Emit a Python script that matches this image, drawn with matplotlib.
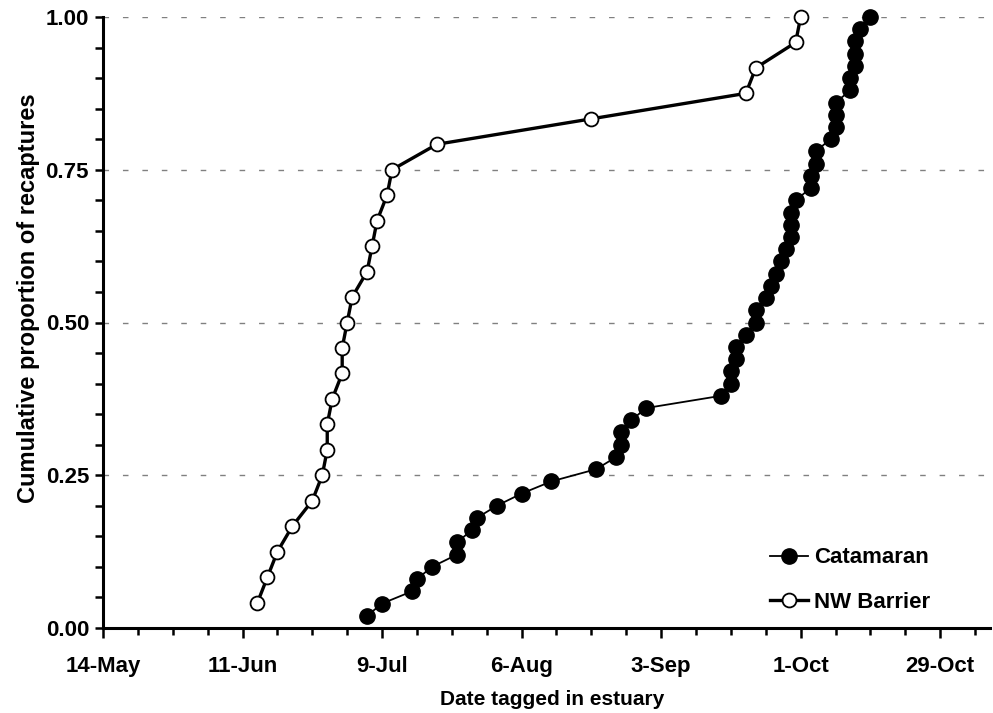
import matplotlib
matplotlib.use("Agg")
import matplotlib.pyplot as plt
from matplotlib.ticker import FixedLocator, MultipleLocator, FormatStrFormatter
import numpy as np

plt.rcParams['font.family'] = ['Liberation Sans', 'DejaVu Sans']
plt.rcParams['font.weight'] = 'bold'

# tag dates, as days after 14 May
catamaran_days = [53, 56, 62, 63, 66, 71, 71, 74, 75, 79,
                  84, 90, 99, 103, 104, 104, 106, 109, 124, 126,
                  126, 127, 127, 129, 131, 131, 133, 134, 135, 136,
                  137, 138, 138, 138, 139, 142, 142, 143, 143, 146,
                  147, 147, 147, 150, 150, 151, 151, 151, 152, 154]
nw_barrier_days = [31, 33, 35, 38, 42, 44, 45, 45, 46, 48,
                   48, 49, 50, 53, 54, 55, 57, 58, 67, 98,
                   129, 131, 139, 140]

tick_days = [0, 28, 56, 84, 112, 140, 168]
tick_labels = ['14-May', '11-Jun', '9-Jul', '6-Aug', '3-Sep', '1-Oct', '29-Oct']


def cumulative(days):
    n = len(days)
    return np.sort(days), np.arange(1, n + 1) / n


fig = plt.figure(figsize=(9.93, 7.13), dpi=100)
ax = fig.add_axes([103 / 993, 85 / 713, 887 / 993, 611 / 713])

for y in [0.25, 0.5, 0.75, 1.0]:
    ax.axhline(y, color='#808080', lw=1.0, dashes=(4, 10), zorder=1)

x, y = cumulative(catamaran_days)
ax.plot(x, y, color='black', lw=1.3, marker='o', ms=11, mfc='black',
        mec='black', label='Catamaran', clip_on=False, zorder=3)
x, y = cumulative(nw_barrier_days)
ax.plot(x, y, color='black', lw=2.4, marker='o', ms=10, mfc='white',
        mec='black', mew=1.3, label='NW Barrier', clip_on=False, zorder=4)

ax.set_xlim(0, 178)
ax.set_ylim(0, 1.0)
ax.xaxis.set_major_locator(FixedLocator(tick_days))
ax.set_xticklabels(tick_labels)
ax.xaxis.set_minor_locator(MultipleLocator(7))
ax.yaxis.set_major_locator(MultipleLocator(0.25))
ax.yaxis.set_minor_locator(MultipleLocator(0.05))
ax.yaxis.set_major_formatter(FormatStrFormatter('%.2f'))

for side in ['top', 'right']:
    ax.spines[side].set_visible(False)
for side in ['left', 'bottom']:
    ax.spines[side].set_linewidth(2.2)

ax.tick_params(axis='both', which='both', direction='out', width=1.8,
               labelsize=16)
ax.tick_params(axis='x', which='major', length=7, pad=13)
ax.tick_params(axis='x', which='minor', length=5)
ax.tick_params(axis='y', which='both', length=6, pad=4)

ax.set_xlabel('Date tagged in estuary', fontsize=15, fontweight='bold')
ax.xaxis.set_label_coords(0.506, -0.101)
ax.set_ylabel('Cumulative proportion of recaptures', fontsize=17,
              fontweight='bold')
ax.yaxis.set_label_coords(-0.071, 0.54)

leg = ax.legend(loc='upper left', bbox_to_anchor=(0.752, 0.132),
                frameon=False, fontsize=16, borderpad=0, borderaxespad=0,
                handlelength=1.7, handletextpad=0.27, labelspacing=1.05)

fig.savefig('out.png', dpi=100)
